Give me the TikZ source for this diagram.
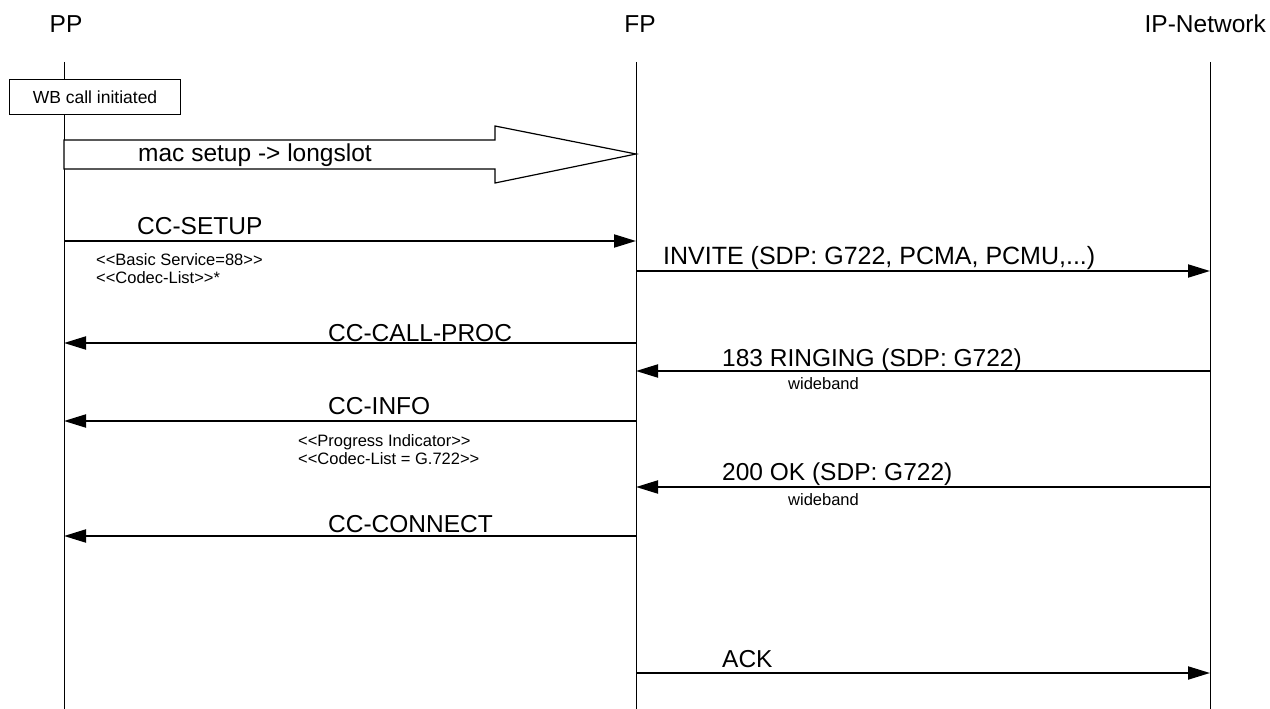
\documentclass[tikz,border=0pt]{standalone}
\usepackage{fontspec}
\setmainfont{Liberation Sans}
\usetikzlibrary{arrows.meta}
\begin{document}
\begin{tikzpicture}[x=1pt,y=-1pt,
  life/.style={line width=1pt,draw=black},
  msg/.style={line width=2pt,-{Triangle[length=22pt,width=13pt]}},
  big/.style={font=\fontsize{24.5}{29}\selectfont,inner sep=0pt,anchor=base west},
  small/.style={font=\fontsize{16.5}{18}\selectfont,inner sep=0pt,anchor=base west},
  note/.style={draw,line width=1pt,font=\fontsize{17.5}{20}\selectfont,minimum width=171pt,minimum height=35pt,inner sep=0pt,anchor=north west},
  block/.style={draw,line width=1.2pt,fill=white}]
\useasboundingbox (0,0) rectangle (1270,709);
% headers
\node[big,anchor=base] (hpp) at (66,33) {PP};
\node[big,anchor=base] (hfp) at (640,33) {FP};
\node[big,anchor=base east] (hip) at (1266,33) {IP-Network};
% lifelines
\coordinate (pptop) at (64,62);  \coordinate (ppbot) at (64,709);
\coordinate (fptop) at (636,62); \coordinate (fpbot) at (636,709);
\coordinate (iptop) at (1210,62); \coordinate (ipbot) at (1210,709);
\draw[life] (pptop) -- (ppbot);
\draw[life] (fptop) -- (fpbot);
\draw[life] (iptop) -- (ipbot);
% note box
\node[note,fill=white] (wb) at (9,79) {WB call initiated};
% block arrow
\draw[block] (64,140) -- (495,140) -- (495,126) -- (636,154) -- (495,183) -- (495,169) -- (64,169) -- cycle;
\node[big] (mac) at (138,161) {mac setup -> longslot};
% CC-SETUP
\coordinate (pp1) at (64,241); \coordinate (fp1) at (636,241);
\draw[msg] (pp1) -- (fp1);
\node[big] (t1) at (137,234) {CC-SETUP};
\node[small] (s1a) at (96,265) {<{}<Basic Service=88>{}>};
\node[small] (s1b) at (96,283) {<{}<Codec-List>{}>*};
% INVITE
\coordinate (fp2) at (636,271); \coordinate (ip2) at (1210,271);
\draw[msg] (fp2) -- (ip2);
\node[big,font=\fontsize{25}{29}\selectfont] (t2) at (663,264) {INVITE (SDP: G722, PCMA, PCMU,...)};
% CC-CALL-PROC
\coordinate (fp3) at (636,343); \coordinate (pp3) at (64,343);
\draw[msg] (fp3) -- (pp3);
\node[big] (t3) at (328,341) {CC-CALL-PROC};
% 183 RINGING
\coordinate (ip4) at (1210,371); \coordinate (fp4) at (636,371);
\draw[msg] (ip4) -- (fp4);
\node[big] (t4) at (722,366) {183 RINGING (SDP: G722)};
\node[small] (s4) at (788,389) {wideband};
% CC-INFO
\coordinate (fp5) at (636,421); \coordinate (pp5) at (64,421);
\draw[msg] (fp5) -- (pp5);
\node[big] (t5) at (328,414) {CC-INFO};
\node[small] (s5a) at (298,446) {<{}<Progress Indicator>{}>};
\node[small] (s5b) at (298,464) {<{}<Codec-List = G.722>{}>};
% 200 OK
\coordinate (ip6) at (1210,487); \coordinate (fp6) at (636,487);
\draw[msg] (ip6) -- (fp6);
\node[big] (t6) at (722,480) {200 OK (SDP: G722)};
\node[small] (s6) at (788,505) {wideband};
% CC-CONNECT
\coordinate (fp7) at (636,536); \coordinate (pp7) at (64,536);
\draw[msg] (fp7) -- (pp7);
\node[big] (t7) at (328,532) {CC-CONNECT};
% ACK
\coordinate (fp8) at (636,673); \coordinate (ip8) at (1210,673);
\draw[msg] (fp8) -- (ip8);
\node[big] (t8) at (722,667) {ACK};
\end{tikzpicture}
\end{document}
